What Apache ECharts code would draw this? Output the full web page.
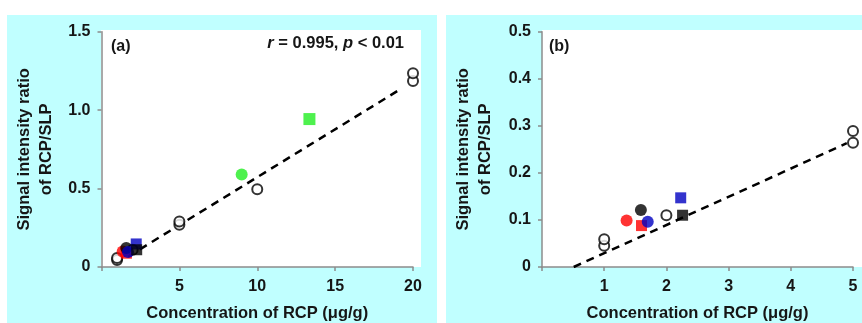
<!DOCTYPE html>
<html><head><meta charset="utf-8">
<script src="https://cdn.jsdelivr.net/npm/echarts@6/dist/echarts.min.js"></script>
<style>html,body{margin:0;padding:0;background:#fff}#c{width:862px;height:323px}</style>
</head><body><div id="c"></div>
<script>
// ---- data ----
const openA = [[1,0.045],[1,0.058],[2,0.11],[5,0.27],[5,0.29],[10,0.495],[20,1.185],[20,1.235]];
const openB = [[1,0.045],[1,0.059],[2,0.11],[5,0.264],[5,0.289]];
const redCircle = [[1.36,0.099]];
const redSquare = [[1.60,0.088]];
const blackCircle = [[1.59,0.121]];
const blueCircle = [[1.70,0.096]];
const blueSquare = [[2.23,0.147]];
const blackSquare = [[2.26,0.110]];
const greenCircle = [[9.0,0.59]];
const greenSquare = [[13.35,0.943]];
const fitA = [[1.7,0.066],[19.3,1.14]];
const fitB = [[0.51,0],[4.9,0.263]];
const xTicksA = [0,5,10,15,20];
const yTicksA = [0,0.5,1.0,1.5];
const xTicksB = [0,1,2,3,4,5];
const yTicksB = [0,0.1,0.2,0.3,0.4,0.5];
const xName = 'Concentration of RCP (μg/g)';
const yName = 'Signal intensity ratio\nof RCP/SLP';

const FONT = 'Liberation Sans, Arial, sans-serif';
const TC = '#161616';
const chart = echarts.init(document.getElementById('c'));
const axisCommon = {
  axisLine:{show:true,lineStyle:{color:'#8c8c8c',width:1.5}},
  axisTick:{show:true,inside:false,length:4,lineStyle:{color:'#8c8c8c',width:1.5}},
  splitLine:{show:false}
};
function xAxis(idx, ticks){
  return Object.assign({}, axisCommon, {
    type:'value', gridIndex:idx, min:ticks[0], max:ticks[ticks.length-1], interval:ticks[1]-ticks[0],
    name:xName, nameLocation:'middle', nameGap:38,
    nameTextStyle:{fontFamily:FONT,fontWeight:'bold',fontSize:16.5,color:TC},
    axisLabel:{fontFamily:FONT,fontWeight:'bold',fontSize:16,color:TC,margin:12,
      formatter:v=> v===0?'':String(v)}
  });
}
function yAxis(idx, ticks, dec){
  return Object.assign({}, axisCommon, {
    type:'value', gridIndex:idx, min:ticks[0], max:ticks[ticks.length-1], interval:ticks[1]-ticks[0],
    name:yName, nameLocation:'middle', nameGap:idx===0?44:46, nameRotate:90,
    nameTextStyle:{fontFamily:FONT,fontWeight:'bold',fontSize:16.5,color:TC,lineHeight:22},
    axisLabel:{fontFamily:FONT,fontWeight:'bold',fontSize:16,color:TC,margin:11,
      formatter:v=> v===0?'0':v.toFixed(dec)}
  });
}
function sc(name, data, idx, symbol, size, color, border){
  return {type:'scatter', name, data, xAxisIndex:idx, yAxisIndex:idx, symbol, symbolSize:size,
    itemStyle: border ? {color:'#fff',borderColor:'#000',borderWidth:2} : {color, borderWidth:0},
    emphasis:{disabled:true}, z:3};
}
function fit(data, idx){
  return {type:'line', data, xAxisIndex:idx, yAxisIndex:idx, symbol:'none',
    lineStyle:{color:'#000',width:2.5,type:[8,6]}, z:2, silent:true};
}
const series = [];
[0,1].forEach(i=>{
  series.push(fit(i===0?fitA:fitB, i));
  series.push(sc('open', i===0?openA:openB, i, 'circle', 10, null, true));
  series.push(sc('redCircle', redCircle, i, 'circle', 12, '#ff0000'));
  series.push(sc('redSquare', redSquare, i, 'rect', 11, '#ff0000'));
  series.push(sc('blackCircle', blackCircle, i, 'circle', 12, '#000000'));
  series.push(sc('blueCircle', blueCircle, i, 'circle', 12, '#0000c0'));
  series.push(sc('blueSquare', blueSquare, i, 'rect', 11, '#0000c0'));
  series.push(sc('blackSquare', blackSquare, i, 'rect', 11, '#000000'));
});
series.push(sc('greenCircle', greenCircle, 0, 'circle', 12, '#22ee22'));
series.push(sc('greenSquare', greenSquare, 0, 'rect', 12, '#22ee22'));

chart.setOption({
  animation:false,
  backgroundColor:'#ffffff',
  graphic:[
    {type:'rect',shape:{x:7,y:15,width:430,height:308},style:{fill:'#c0ffff'},z:-10,silent:true},
    {type:'rect',shape:{x:446,y:15,width:416,height:308},style:{fill:'#c0ffff'},z:-10,silent:true},
    {type:'rect',shape:{x:101,y:30,width:320,height:237},style:{fill:'#ffffff'},z:-9,silent:true},
    {type:'rect',shape:{x:542,y:30,width:320,height:237},style:{fill:'#ffffff'},z:-9,silent:true},
    {type:'text',left:111,top:39,style:{text:'(a)',font:'bold 16px '+FONT,fill:TC},z:10},
    {type:'text',left:549,top:39,style:{text:'(b)',font:'bold 16px '+FONT,fill:TC},z:10},
    {type:'text',right:458,top:35,style:{
      text:'{i|r} = 0.995, {i|p} < 0.01',
      rich:{i:{fontStyle:'italic',fontWeight:'bold',fontSize:16.5,fontFamily:FONT,fill:TC}},
      font:'bold 16.5px '+FONT,fill:TC},z:10}
  ],
  grid:[
    {left:101.5,top:31.7,width:311.5,height:235.3,show:false,containLabel:false,outerBoundsMode:'none'},
    {left:542,top:31.7,width:311,height:235.3,show:false,containLabel:false,outerBoundsMode:'none'}
  ],
  xAxis:[xAxis(0,xTicksA), xAxis(1,xTicksB)],
  yAxis:[yAxis(0,yTicksA,1), yAxis(1,yTicksB,1)],
  series
});
</script></body></html>
